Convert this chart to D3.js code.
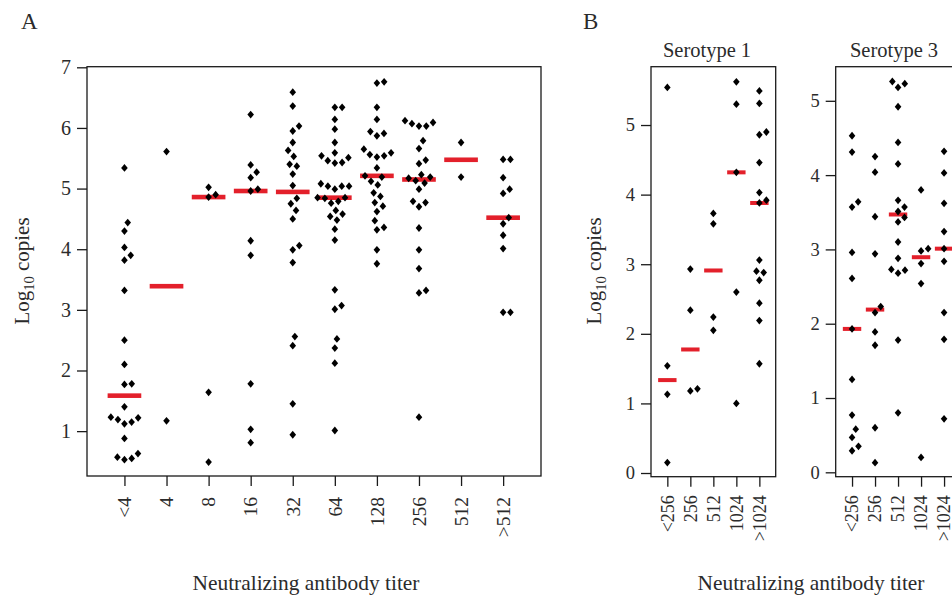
<!DOCTYPE html>
<html>
<head>
<meta charset="utf-8">
<script src="https://cdn.jsdelivr.net/npm/d3@7/dist/d3.min.js"></script>
<style>
  html, body { margin: 0; padding: 0; background: #fff; }
  svg { display: block; }
</style>
</head>
<body>
<svg id="chart" width="952" height="597"></svg>
<script>
// ---------------- DATA ----------------
const titersA = ["<4", "4", "8", "16", "32", "64", "128", "256", "512", ">512"];
const copiesA = [
  [5.34, 4.44, 4.30, 4.03, 3.90, 3.82, 3.32, 2.50, 2.10, 1.77, 1.78, 1.40, 1.22, 1.19, 1.23, 1.12, 1.15, 0.88, 0.57, 0.53, 0.55, 0.63],
  [5.61, 1.17],
  [5.02, 4.86, 4.90, 1.64, 0.49],
  [6.22, 5.39, 5.27, 5.18, 4.96, 4.99, 4.14, 3.90, 1.78, 1.03, 0.81],
  [6.59, 6.36, 5.95, 6.03, 5.76, 5.63, 5.53, 5.40, 5.37, 5.24, 5.05, 4.84, 4.75, 4.64, 4.50, 3.99, 4.06, 3.78, 2.56, 2.41, 1.45, 0.94],
  [6.34, 6.34, 6.14, 5.98, 5.76, 5.59, 5.54, 5.46, 5.42, 5.43, 5.51, 5.04, 5.04, 4.99, 5.04, 5.08, 4.85, 4.84, 4.76, 4.79, 4.85, 4.64, 4.58, 4.54, 4.48, 4.33, 4.15, 3.33, 3.01, 3.07, 2.52, 2.37, 2.12, 1.01],
  [6.74, 6.76, 6.34, 6.14, 5.94, 5.87, 5.91, 5.65, 5.56, 5.52, 5.54, 5.59, 5.34, 5.21, 5.19, 5.12, 5.06, 4.93, 4.87, 4.77, 4.71, 4.62, 4.47, 4.32, 4.36, 3.99, 3.76],
  [6.12, 6.07, 6.03, 6.03, 6.09, 5.79, 5.66, 5.47, 5.41, 5.17, 5.13, 5.23, 5.19, 5.09, 4.99, 4.79, 4.77, 4.70, 4.35, 3.99, 3.68, 3.28, 3.32, 1.23],
  [5.76, 5.19],
  [5.48, 5.48, 5.18, 4.99, 4.92, 4.52, 4.42, 4.23, 4.01, 2.96, 2.96]
];
const yTicksA = [1, 2, 3, 4, 5, 6, 7];

const titersB = ["<256", "256", "512", "1024", ">1024"];
const serotype1 = [
  [5.54, 1.54, 1.13, 0.15],
  [2.93, 2.34, 1.18, 1.21],
  [3.73, 3.58, 2.24, 2.05],
  [5.62, 5.30, 4.32, 2.60, 1.00],
  [5.49, 5.31, 4.86, 4.90, 4.46, 4.03, 3.92, 3.88, 3.06, 2.90, 2.88, 2.77, 2.44, 2.19, 1.57]
];
const serotype3 = [
  [4.53, 4.31, 3.57, 3.64, 2.96, 2.61, 1.93, 1.25, 0.77, 0.58, 0.47, 0.35, 0.29],
  [4.25, 4.04, 3.44, 2.94, 2.23, 2.15, 1.89, 1.71, 0.60, 0.13],
  [5.26, 5.18, 5.23, 4.92, 4.44, 4.15, 3.66, 3.57, 3.51, 3.43, 3.37, 3.10, 2.88, 2.73, 2.68, 2.72, 1.78, 0.80],
  [3.80, 2.98, 3.01, 2.81, 2.54, 0.20],
  [4.32, 4.03, 3.62, 3.24, 3.01, 2.84, 2.15, 1.79, 0.72]
];
const yTicksB = [0, 1, 2, 3, 4, 5];
const serotypeTitles = ["Serotype 1", "Serotype 3"];
const xTitle = "Neutralizing antibody titer";

// ---------------- DRAWING ----------------
const FONT = "'Liberation Serif', 'Times New Roman', serif";
const TXT = "#2b2b2b";
const svg = d3.select("#chart");
const RED = "#e3202b";
const GS = 7.3, DS = 9.5;   // swarm spacing (px) along group / data axis

// R beeswarm "swarm" placement (priority ascending)
function swarmOffsets(py) {
  const order = py.map((v, i) => i).sort((a, b) => (py[b] - py[a]) || (a - b));
  const placed = [], off = new Array(py.length).fill(0);
  for (const i of order) {
    const yi = py[i] / DS;
    const pots = placed.filter(p => Math.abs(yi - p.y) < 1);
    let bx = 0;
    if (pots.length) {
      const c = [0];
      pots.forEach(p => c.push(p.x + Math.sqrt(1 - (yi - p.y) ** 2)));
      pots.forEach(p => c.push(p.x - Math.sqrt(1 - (yi - p.y) ** 2)));
      let best = Infinity;
      for (const cx of c) {
        const bad = pots.some(p => (yi - p.y) ** 2 + (cx - p.x) ** 2 < 0.999);
        if (!bad && Math.abs(cx) < best) { best = Math.abs(cx); bx = cx; }
      }
    }
    off[i] = bx * GS;
    placed.push({ y: yi, x: bx });
  }
  return off;
}

const diamond = "M0,-3.9L3.3,0L0,3.9L-3.3,0Z";

function styleText(sel, size) {
  sel.attr("font-family", null)
     .style("font-family", FONT)
     .style("font-size", size + "px")
     .style("fill", TXT);
  return sel;
}

function panel(cfg) {
  const g = svg.append("g");
  const x = d3.scaleLinear().domain(cfg.xdom).range([cfg.x0, cfg.x1]);
  const y = d3.scaleLinear().domain(cfg.ydom).range([cfg.y1, cfg.y0]);

  // medians
  g.selectAll("rect.med").data(cfg.data).join("rect")
    .attr("x", (d, i) => x(i + 1 - 0.4))
    .attr("width", x(1.4) - x(0.6))
    .attr("y", d => y(d3.median(d)) - cfg.medH / 2)
    .attr("height", cfg.medH)
    .attr("fill", RED);

  // points (beeswarm)
  cfg.data.forEach((vals, i) => {
    const py = vals.map(v => y(v));
    const off = swarmOffsets(py);
    g.append("g").selectAll("path").data(vals).join("path")
      .attr("d", diamond)
      .attr("transform", (v, j) => `translate(${x(i + 1) + off[j]},${py[j]})`)
      .attr("fill", "#000");
  });

  // box
  g.append("rect")
    .attr("x", cfg.x0).attr("y", cfg.y0)
    .attr("width", cfg.x1 - cfg.x0).attr("height", cfg.y1 - cfg.y0)
    .attr("fill", "none").attr("stroke", "#1a1a1a").attr("stroke-width", 1.3);

  // y axis
  const ya = g.append("g").attr("transform", `translate(${cfg.x0},0)`)
    .call(d3.axisLeft(y).tickValues(cfg.yticks).tickSize(10).tickPadding(6).tickFormat(d3.format("d")));
  ya.attr("font-family", null);
  ya.select(".domain").remove();
  ya.selectAll(".tick line").attr("stroke", "#1a1a1a").attr("stroke-width", 1.3);
  styleText(ya.selectAll(".tick text"), cfg.yfs);

  // x axis
  const xa = g.append("g").attr("transform", `translate(0,${cfg.y1})`)
    .call(d3.axisBottom(x).tickValues(d3.range(1, cfg.labels.length + 1)).tickSize(10)
      .tickFormat(d => cfg.labels[d - 1]));
  xa.attr("font-family", null);
  xa.select(".domain").remove();
  xa.selectAll(".tick line").attr("stroke", "#1a1a1a").attr("stroke-width", 1.3);
  styleText(xa.selectAll(".tick text"), cfg.xfs)
    .attr("transform", "rotate(-90)")
    .attr("x", -cfg.labGap).attr("y", 0).attr("dy", "0.32em")
    .style("text-anchor", "end");
  return g;
}

function label(x, y, txt, size, anchor) {
  return styleText(svg.append("text").attr("x", x).attr("y", y)
    .attr("text-anchor", anchor || "start").text(txt), size);
}

function yTitle(xb, yc) {
  const t = styleText(svg.append("text")
    .attr("transform", `translate(${xb},${yc}) rotate(-90)`)
    .attr("text-anchor", "middle"), 21);
  t.append("tspan").text("Log");
  t.append("tspan").attr("dy", 5).style("font-size", "14.5px").text("10");
  t.append("tspan").attr("dy", -5).text(" copies");
}

// Panel A
panel({ x0: 87, x1: 541, y0: 66.7, y1: 476, xdom: [0.11, 10.9], ydom: [0.26, 7.01],
        data: copiesA, labels: titersA, yticks: yTicksA, yfs: 20, xfs: 19.5, medH: 4.6, labGap: 21 });
// Panel B
panel({ x0: 651, x1: 775.7, y0: 66.7, y1: 476.7, xdom: [0.29, 5.71], ydom: [-0.053, 5.838],
        data: serotype1, labels: titersB, yticks: yTicksB, yfs: 18.5, xfs: 18, medH: 4, labGap: 18.5 });
panel({ x0: 835.7, x1: 960.4, y0: 66.7, y1: 476.7, xdom: [0.29, 5.71], ydom: [-0.059, 5.459],
        data: serotype3, labels: titersB, yticks: yTicksB, yfs: 18.5, xfs: 18, medH: 4, labGap: 18.5 });

// titles
label(21, 29, "A", 23);
label(583, 29, "B", 23);
label(707, 56.5, serotypeTitles[0], 20.5, "middle");
label(894, 56.5, serotypeTitles[1], 20.5, "middle");
label(306, 590, xTitle, 21.4, "middle");
label(811, 590, xTitle, 21.4, "middle");
yTitle(29, 271);
yTitle(601, 271);
</script>
</body>
</html>
